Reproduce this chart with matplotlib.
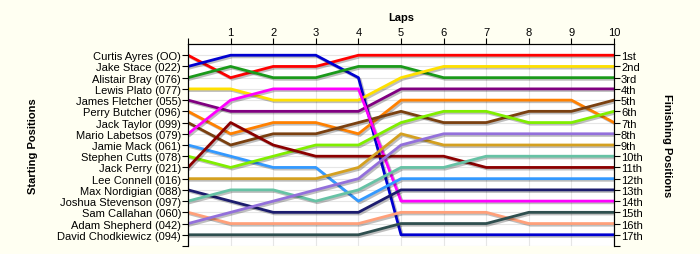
import matplotlib.pyplot as plt
import matplotlib.patheffects as pe

plt.rcParams['font.family'] = ['Liberation Sans', 'DejaVu Sans']

laps = list(range(0, 11))

drivers = ['Curtis Ayres (OO)', 'Jake Stace (022)', 'Alistair Bray (076)',
           'Lewis Plato (077)', 'James Fletcher (055)', 'Perry Butcher (096)',
           'Jack Taylor (099)', 'Mario Labetsos (079)', 'Jamie Mack (061)',
           'Stephen Cutts (078)', 'Jack Perry (021)', 'Lee Connell (016)',
           'Max Nordigian (088)', 'Joshua Stevenson (097)', 'Sam Callahan (060)',
           'Adam Shepherd (042)', 'David Chodkiewicz (094)']

# position of each driver at laps 0..10
curtis = [1, 3, 2, 2, 1, 1, 1, 1, 1, 1, 1]
jake_s = [2, 1, 1, 1, 3, 17, 17, 17, 17, 17, 17]
alistair = [3, 2, 3, 3, 2, 2, 3, 3, 3, 3, 3]
lewis = [4, 4, 5, 5, 5, 3, 2, 2, 2, 2, 2]
james = [5, 6, 6, 6, 6, 4, 4, 4, 4, 4, 4]
perry = [6, 8, 7, 7, 8, 5, 5, 5, 5, 5, 7]
jack_t = [7, 9, 8, 8, 7, 6, 7, 7, 6, 6, 5]
mario = [8, 5, 4, 4, 4, 14, 14, 14, 14, 14, 14]
jamie = [9, 10, 11, 11, 14, 12, 12, 12, 12, 12, 12]
stephen = [10, 11, 10, 9, 9, 7, 6, 6, 7, 7, 6]
jack_p = [11, 7, 9, 10, 10, 10, 10, 11, 11, 11, 11]
lee = [12, 12, 12, 12, 11, 8, 9, 9, 9, 9, 9]
max_n = [13, 14, 15, 15, 15, 13, 13, 13, 13, 13, 13]
joshua = [14, 13, 13, 14, 13, 11, 11, 10, 10, 10, 10]
sam = [15, 16, 16, 16, 16, 15, 15, 15, 16, 16, 16]
adam = [16, 15, 14, 13, 12, 9, 8, 8, 8, 8, 8]
david = [17, 17, 17, 17, 17, 16, 16, 16, 15, 15, 15]

positions = [curtis, jake_s, alistair, lewis, james, perry, jack_t, mario, jamie,
             stephen, jack_p, lee, max_n, joshua, sam, adam, david]

colors = ['#ff0000', '#0000d0', '#1a9a1a', '#ffe000', '#800080', '#ff8000',
          '#7a4010', '#ff00ff', '#3399ff', '#80ee00', '#8b0000', '#d4a020',
          '#1c1c6e', '#66c2a5', '#ffa07a', '#9370db', '#2f4f4f']

finish_labels = ['1st', '2nd', '3rd'] + ['%dth' % i for i in range(4, 18)]

fig = plt.figure(figsize=(7, 2.55), dpi=100, facecolor='#fffff2')
ax = fig.add_axes([0.2686, 0.0314, 0.6086, 0.7921])
ax.set_facecolor('white')

shadow = [pe.SimpleLineShadow(offset=(1.2, -1.2), shadow_color='black', alpha=0.25),
          pe.Normal()]
for pos, c in zip(positions, colors):
    ax.plot(laps, pos, color=c, linewidth=2, path_effects=shadow)

ax.set_xlim(0, 10)
ax.set_ylim(18, 0)
ax.xaxis.tick_top()
ax.set_xticks(laps)
ax.set_xticklabels([''] + [str(i) for i in laps[1:]], fontsize=8)
ax.set_title('Laps', fontsize=8, fontweight='bold', pad=17)

ax.set_yticks(range(1, 19))
ax.set_yticklabels(drivers + [''], fontsize=8)
ax.set_ylabel('Starting Positions', fontsize=8, fontweight='bold', labelpad=14)
ax.grid(True, color='#e6e6e6', linewidth=0.8)
ax.set_axisbelow(True)
ax.spines['bottom'].set_visible(False)
ax.tick_params(length=4, pad=1, colors='black')

ax2 = ax.twinx()
ax2.set_ylim(18, 0)
ax2.set_yticks(range(1, 19))
ax2.set_yticklabels(finish_labels + [''], fontsize=8)
ax2.set_ylabel('Finishing Positions', fontsize=8, fontweight='bold',
               rotation=270, labelpad=21)
ax2.spines['bottom'].set_visible(False)
ax2.tick_params(length=4, pad=1)

fig.savefig('out.png', dpi=100, facecolor=fig.get_facecolor())
